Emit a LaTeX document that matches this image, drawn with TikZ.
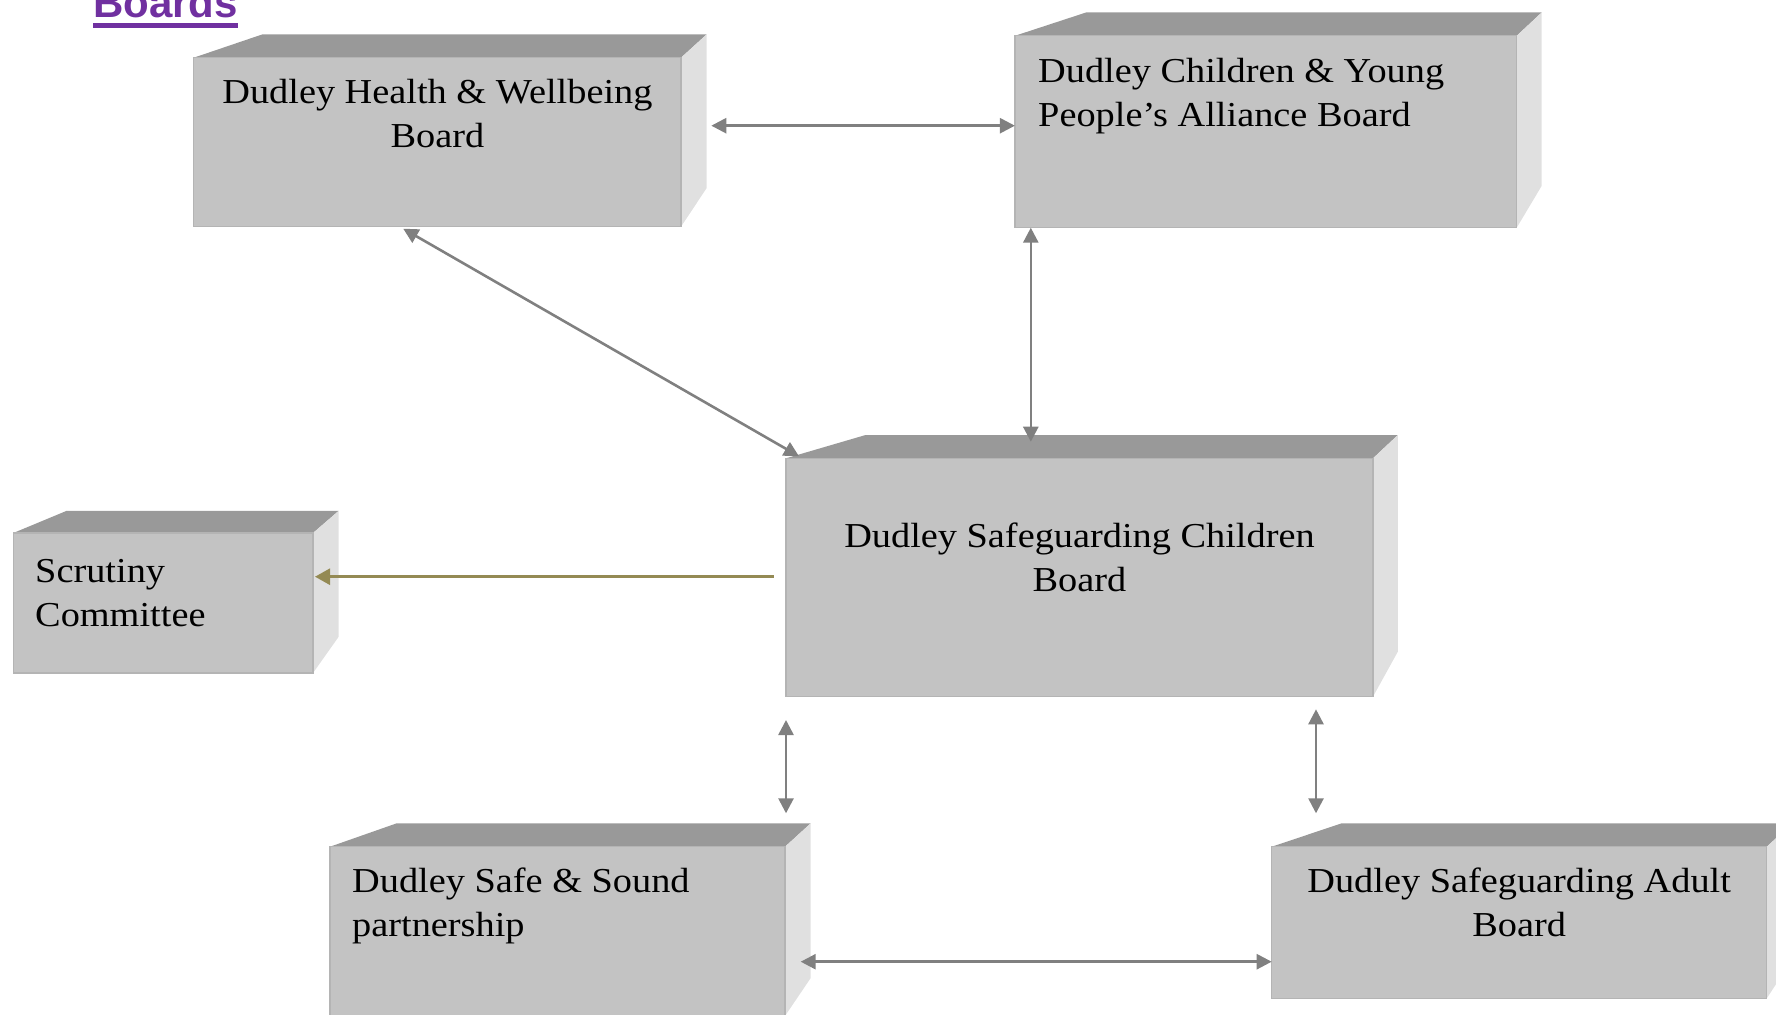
\documentclass[tikz,border=0pt]{standalone}
\usepackage{fontspec}
\setmainfont{Liberation Serif}[FakeStretch=1.095]
\newfontfamily\headfont{Liberation Sans}
\usetikzlibrary{arrows.meta,calc}
\definecolor{frontc}{HTML}{C3C3C3}
\definecolor{topc}{HTML}{999999}
\definecolor{sidec}{HTML}{E0E0E0}
\definecolor{edgec}{HTML}{B4B4B4}
\definecolor{arrc}{HTML}{808080}
\definecolor{olivec}{HTML}{948A54}
\definecolor{headc}{HTML}{7030A0}
% name, x1, y1, x2, y2 (front face), back y, back-left x, back-right x, side-bottom y
\newcommand{\cuboid}[9]{%
  \fill[topface] (#2,#3) -- (#7,#6) -- (#8,#6) -- (#4,#3) -- cycle;
  \fill[sideface] (#4,#3) -- (#8,#6) -- (#8,#9) -- (#4,#5) -- cycle;
  \node[frontface, minimum width=#4pt-#2pt, minimum height=#5pt-#3pt] (#1) at (#2,#3) {};
}
\begin{document}
\begin{tikzpicture}[x=1pt,y=-1pt,
  frontface/.style={draw=edgec,line width=1.2pt,fill=frontc,inner sep=0pt,outer sep=0pt,anchor=north west},
  topface/.style={fill=topc},
  sideface/.style={fill=sidec},
  boxtext/.style={inner sep=0pt,anchor=base,font=\fontsize{35}{44}\selectfont},
  boxtextl/.style={boxtext,anchor=base west},
  conn/.style={draw=arrc,line width=2.6pt,{Triangle[length=15pt,width=15pt]}-{Triangle[length=15pt,width=15pt]}},
  oconn/.style={draw=olivec,line width=2.6pt,-{Triangle[length=15pt,width=16pt]}},
]
\useasboundingbox (0,0) rectangle (1776,1014);
\clip (0,0) rectangle (1776,1014);

% heading
\node[inner sep=0pt, anchor=base west, text=headc, font=\headfont\bfseries\fontsize{42}{50}\selectfont] (hdr) at (93,18) {Boards};
\fill[headc] ($(hdr.base west)+(0,5.3)$) rectangle ($(hdr.base east)+(0,9.8)$);

% boxes
\cuboid{hwb}{193.7}{57.7}{681}{226.7}{34.3}{262.6}{706.7}{188}
\cuboid{cyp}{1014.9}{35.8}{1516.7}{227.7}{12.5}{1086}{1541.6}{186}
\cuboid{dscb}{786}{458.3}{1373}{696.6}{435}{865.6}{1397.8}{651.7}
\cuboid{scr}{13.3}{533}{313}{673}{510.8}{66.7}{338.7}{636.7}
\cuboid{dss}{330}{846.7}{785}{1016}{823.3}{396.7}{810.7}{978}
\cuboid{dsab}{1271.7}{846.7}{1766.7}{998.3}{823.3}{1341.7}{1792.4}{959.6}

% texts
\node[boxtext] (hwbt) at (437.4,103.8) {\begin{tabular}[t]{@{}c@{}}Dudley Health \& Wellbeing\\Board\end{tabular}};
\node[boxtextl] (cypt) at (1038,82.3) {\begin{tabular}[t]{@{}l@{}}Dudley Children \& Young\\People’s Alliance Board\end{tabular}};
\node[boxtext] (dscbt) at (1079.5,547.7) {\begin{tabular}[t]{@{}c@{}}Dudley Safeguarding Children\\Board\end{tabular}};
\node[boxtextl] (scrt) at (35,582) {\begin{tabular}[t]{@{}l@{}}Scrutiny\\Committee\end{tabular}};
\node[boxtextl] (dsst) at (352,892.7) {\begin{tabular}[t]{@{}l@{}}Dudley Safe \& Sound\\partnership\end{tabular}};
\node[boxtext] (dsabt) at (1519.2,892.7) {\begin{tabular}[t]{@{}c@{}}Dudley Safeguarding Adult\\Board\end{tabular}};

% connectors
\coordinate (p1) at (711.3,125.7);
\draw[conn] (p1) -- (p1 -| cyp.west);
\draw[conn] ($(hwb.south west)!0.43!(hwb.south east)+(0,2)$) -- ($(dscb.north west)+(13,-2)$);
\coordinate (p3) at (1030.8,441.7);
\draw[conn] (p3 |- cyp.south) -- (p3);
\coordinate (p4) at (773.6,576.7);
\draw[oconn] (p4) -- ($(p4 -| scr.east)+(2,0)$);
\coordinate (p5a) at (786,720);
\coordinate (p5b) at (786,813.3);
\draw[conn] (p5a) -- (p5b);
\coordinate (p6a) at (1316,709.3);
\coordinate (p6b) at (1316,813.3);
\draw[conn] (p6a) -- (p6b);
\coordinate (p7) at (800.7,961.7);
\draw[conn] (p7) -- (p7 -| dsab.west);
\end{tikzpicture}
\end{document}
